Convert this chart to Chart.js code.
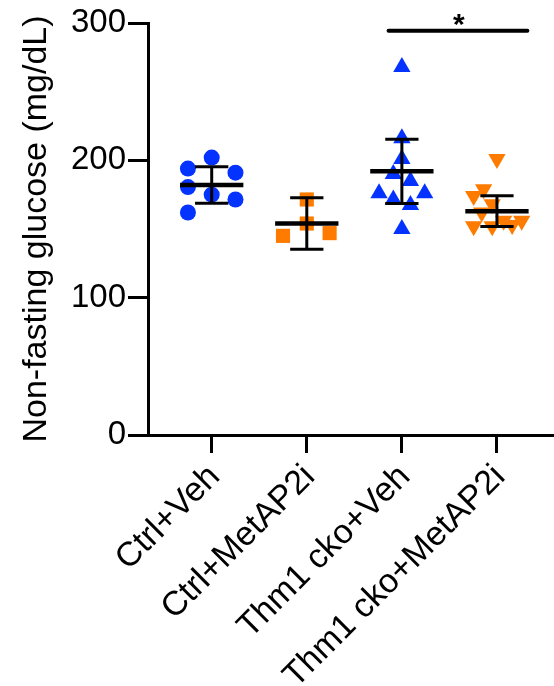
<!DOCTYPE html>
<html>
<head>
<meta charset="utf-8">
<script src="https://cdn.jsdelivr.net/npm/chart.js@4.4.0/dist/chart.umd.min.js"></script>
<style>
html, body { margin:0; padding:0; background:#fff }
#wrap { width:554px; height:686px; position:relative }
</style>
</head>
<body>
<div id="wrap"><canvas id="chart"></canvas></div>
<script>
// =====================
// DATA
// =====================
const groups = ["Ctrl+Veh", "Ctrl+MetAP2i", "Thm1 cko+Veh", "Thm1 cko+MetAP2i"]

// individual animals (mg/dL) + horizontal scatter of each dot
const ctrlVeh = [194, 202, 191, 180.5, 175, 171.5, 162]
const ctrlVehJitter = [-0.25, 0, 0.25, -0.25, 0, 0.25, -0.25]

const ctrlMet = [171.5, 154, 145, 147]
const ctrlMetJitter = [0, 0, -0.25, 0.24]

const ckoVeh = [268, 216, 201, 190, 185, 176, 171.5, 176, 167.5, 150]
const ckoVehJitter = [0, 0, 0, -0.09, 0.09, -0.24, -0.09, 0.24, 0.09, 0]

const ckoMet = [201, 179, 174, 168, 162, 152, 152, 156, 153, 156]
const ckoMetJitter = [0, -0.14, -0.245, -0.05, -0.16, -0.245, -0.05, 0.07, 0.16, 0.26]

// mean and SD per group
const means = [182, 154, 192, 163]
const sds = [13.3, 18.7, 23.4, 11.2]

const yTicks = [0, 100, 200, 300]

// =====================
// HELPERS
// =====================
const BLUE = "#0433ff"
const ORANGE = "#ff7b00"
const FONT = "'Liberation Sans', Arial, Helvetica, sans-serif"

function toPoints(values, jitter, group){
  return values.map((v, i) => ({ x: group + jitter[i], y: v }))
}

// mean / SD bars and the significance bracket
const errorBars = {
  id: "errorBars",
  afterDatasetsDraw(chart){
    const { ctx, scales: { x, y } } = chart
    ctx.save()
    ctx.strokeStyle = "#000"
    ctx.lineCap = "butt"

    function seg(x1, y1, x2, y2){
      ctx.beginPath()
      ctx.moveTo(x1, y1)
      ctx.lineTo(x2, y2)
      ctx.stroke()
    }

    means.forEach((m, i) => {
      const g = i + 1
      const yHi = y.getPixelForValue(m + sds[i])
      const yLo = y.getPixelForValue(m - sds[i])
      const xc = x.getPixelForValue(g)
      ctx.lineWidth = 3
      seg(xc, yHi, xc, yLo)
      seg(x.getPixelForValue(g - 0.175), yHi, x.getPixelForValue(g + 0.175), yHi)
      seg(x.getPixelForValue(g - 0.175), yLo, x.getPixelForValue(g + 0.175), yLo)
      ctx.lineWidth = 4.5
      const ym = y.getPixelForValue(m)
      seg(x.getPixelForValue(g - 0.333), ym, x.getPixelForValue(g + 0.333), ym)
    })

    // significance: group 3 vs group 4
    const sy = y.getPixelForValue(294.4)
    ctx.lineWidth = 4
    ctx.lineCap = "round"
    seg(x.getPixelForValue(2.86), sy, x.getPixelForValue(4.32), sy)
    ctx.fillStyle = "#000"
    ctx.font = "bold 30px " + FONT
    ctx.textAlign = "center"
    ctx.textBaseline = "alphabetic"
    ctx.fillText("*", x.getPixelForValue(3.6), sy + 3)
    ctx.restore()
  }
}

// =====================
// CHART
// =====================
new Chart(document.getElementById("chart"), {
  type: "scatter",
  data: {
    datasets: [
      { data: toPoints(ctrlVeh, ctrlVehJitter, 1), pointStyle: "circle", pointRadius: 8,
        backgroundColor: BLUE, borderColor: BLUE, borderWidth: 0 },
      { data: toPoints(ctrlMet, ctrlMetJitter, 2), pointStyle: "rect", pointRadius: 10,
        backgroundColor: ORANGE, borderColor: ORANGE, borderWidth: 0 },
      { data: toPoints(ckoVeh, ckoVehJitter, 3), pointStyle: "triangle", pointRadius: 10,
        backgroundColor: BLUE, borderColor: BLUE, borderWidth: 0 },
      { data: toPoints(ckoMet, ckoMetJitter, 4), pointStyle: "triangle", pointRotation: 180, pointRadius: 10,
        backgroundColor: ORANGE, borderColor: ORANGE, borderWidth: 0 }
    ]
  },
  options: {
    responsive: true,
    maintainAspectRatio: false,
    animation: false,
    layout: { autoPadding: false, padding: { top: 23, right: 0, bottom: 0, left: 0 } },
    plugins: { legend: { display: false }, tooltip: { enabled: false } },
    scales: {
      x: {
        type: "linear",
        min: 0.33,
        max: 4.6,
        afterBuildTicks: s => { s.ticks = groups.map((g, i) => ({ value: i + 1 })) },
        afterFit: s => { s.height = 251; s.paddingLeft = 0; s.paddingRight = 0 },
        ticks: {
          callback: v => groups[v - 1],
          autoSkip: false,
          minRotation: 45,
          maxRotation: 45,
          padding: 4,
          labelOffset: 3,
          color: "#000",
          font: { family: FONT, size: 34 }
        },
        grid: { drawOnChartArea: false, tickLength: 18, tickWidth: 3, color: "#000" },
        border: { display: true, color: "#000", width: 3 }
      },
      y: {
        min: 0,
        max: 300,
        afterBuildTicks: s => { s.ticks = yTicks.map(v => ({ value: v })) },
        afterFit: s => { s.width = 148 },
        ticks: { padding: 2, color: "#000", font: { family: FONT, size: 33 } },
        grid: { drawOnChartArea: false, tickLength: 20, tickWidth: 3, color: "#000" },
        border: { display: true, color: "#000", width: 3 },
        title: {
          display: true,
          text: "Non-fasting glucose (mg/dL)",
          color: "#000",
          font: { family: FONT, size: 34 },
          padding: { top: 16, bottom: 0 }
        }
      }
    }
  },
  plugins: [errorBars]
})
</script>
</body>
</html>
